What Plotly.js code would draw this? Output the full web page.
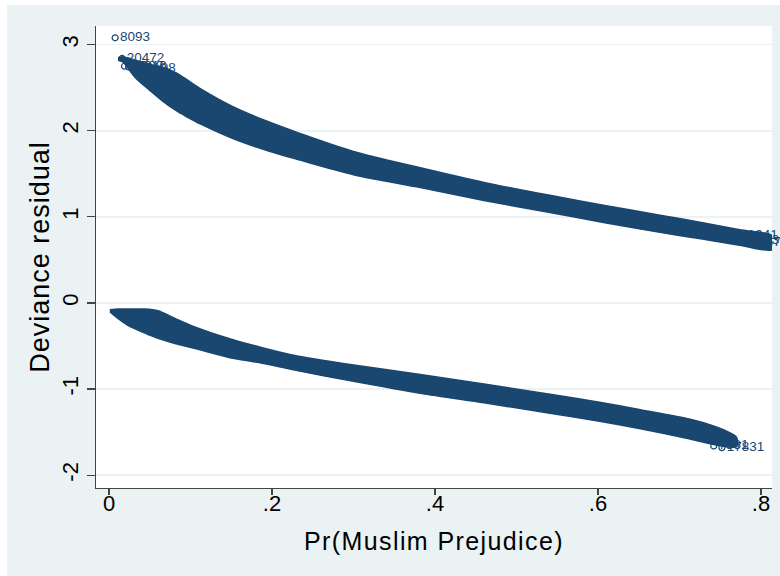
<!DOCTYPE html>
<html>
<head>
<meta charset="utf-8">
<script src="https://cdn.plot.ly/plotly-3.0.1.min.js"></script>
<style>
  html, body { margin: 0; padding: 0; background: #ffffff; width: 780px; height: 576px; overflow: hidden; }
  #chart { position: absolute; left: 7px; top: 5px; width: 773px; height: 571px; }
  .x2title { letter-spacing: 1.4px; }
  .ytitle { letter-spacing: 1px; }
</style>
</head>
<body>
<div id="chart"></div>
<script>
// Upper band (observations with outcome = 1): x = predicted probability, edges of point cloud
var upperX      = [0.011, 0.017, 0.032, 0.050, 0.065, 0.083, 0.096, 0.112, 0.152, 0.194, 0.234, 0.300, 0.382, 0.460, 0.541, 0.610, 0.676, 0.730, 0.774, 0.814];
var upperTop    = [2.85, 2.86, 2.82, 2.77, 2.74, 2.67, 2.59, 2.49, 2.28, 2.11, 1.97, 1.76, 1.57, 1.40, 1.25, 1.13, 1.02, 0.93, 0.85, 0.78];
var upperBottom = [2.82, 2.80, 2.62, 2.47, 2.35, 2.23, 2.16, 2.08, 1.91, 1.77, 1.66, 1.49, 1.34, 1.19, 1.05, 0.93, 0.82, 0.74, 0.67, 0.62];

// Lower band (observations with outcome = 0)
var lowerX      = [0.001, 0.011, 0.023, 0.044, 0.060, 0.081, 0.106, 0.146, 0.188, 0.228, 0.300, 0.382, 0.460, 0.541, 0.600, 0.652, 0.713, 0.745, 0.770];
var lowerTop    = [-0.08, -0.07, -0.07, -0.07, -0.09, -0.18, -0.28, -0.41, -0.52, -0.61, -0.72, -0.83, -0.94, -1.06, -1.15, -1.24, -1.35, -1.44, -1.56];
var lowerBottom = [-0.10, -0.18, -0.26, -0.35, -0.41, -0.47, -0.53, -0.63, -0.70, -0.78, -0.91, -1.05, -1.16, -1.28, -1.37, -1.46, -1.58, -1.65, -1.67];

// Labelled (extreme) observations
var labelX    = [0.0075, 0.016, 0.019, 0.024, 0.030, 0.778, 0.789, 0.800, 0.742, 0.752];
var labelY    = [3.08, 2.84, 2.75, 2.74, 2.72, 0.78, 0.72, 0.70, -1.66, -1.68];
var labelText = ["8093", "20472", "16216", "4782", "10198", "1941", "20311", "6707", "7831", "17831"];

// Axis ticks
var xTickVals = [0, 0.2, 0.4, 0.6, 0.8];
var xTickText = ["0", ".2", ".4", ".6", ".8"];
var yTickVals = [-2, -1, 0, 1, 2, 3];
var yTickText = ["-2", "-1", "0", "1", "2", "3"];

var navy = "#1a476f";

function band(xs, top, bottom) {
  var px = xs.concat(xs.slice().reverse());
  var py = top.concat(bottom.slice().reverse());
  return {
    x: px, y: py, type: "scatter", mode: "lines", fill: "toself",
    fillcolor: navy, line: { color: navy, width: 1.5, shape: "spline", smoothing: 0.8 },
    hoverinfo: "skip", showlegend: false
  };
}

var traces = [
  band(upperX, upperTop, upperBottom),
  band(lowerX, lowerTop, lowerBottom),
  {
    x: labelX, y: labelY, type: "scatter", mode: "markers+text", xaxis: "x2",
    text: labelText, textposition: "middle right", cliponaxis: false,
    textfont: { family: "Liberation Sans, Arial, sans-serif", size: 13.5, color: navy },
    marker: { symbol: "circle-open", size: 6, color: navy, line: { width: 1.2, color: navy } },
    showlegend: false
  }
];

var layout = {
  width: 773, height: 571,
  paper_bgcolor: "#eaf2f3",
  plot_bgcolor: "#ffffff",
  margin: { l: 89, r: 8, t: 21, b: 88 },
  font: { family: "Liberation Sans, Arial, Helvetica, sans-serif", color: "#000000" },
  showlegend: false,
  // axis line and tick marks
  xaxis: {
    range: [-0.016, 0.8135],
    tickvals: xTickVals, ticktext: xTickText,
    ticks: "outside", ticklen: 6, tickwidth: 1.2, tickcolor: "#444444",
    showticklabels: false,
    showline: true, linecolor: "#444444", linewidth: 1.3,
    showgrid: false, zeroline: false
  },
  // tick labels and title (same scale as xaxis)
  xaxis2: {
    matches: "x", overlaying: "x", anchor: "y", side: "bottom",
    tickvals: xTickVals, ticktext: xTickText,
    ticks: "", showline: false, showgrid: false, zeroline: false,
    tickfont: { size: 22 },
    title: { text: "Pr(Muslim Prejudice)", font: { size: 25 }, standoff: 17 }
  },
  yaxis: {
    range: [-2.149, 3.217],
    tickvals: yTickVals, ticktext: yTickText,
    tickangle: -90,
    ticks: "outside", ticklen: 8, tickwidth: 1.2, tickcolor: "#444444",
    showline: true, linecolor: "#444444", linewidth: 1.3,
    showgrid: true, gridcolor: "#eaf2f3", gridwidth: 1.5, zeroline: false,
    tickfont: { size: 22 },
    title: { text: "Deviance residual", font: { size: 27 }, standoff: 0 }
  }
};

Plotly.newPlot("chart", traces, layout, { displayModeBar: false, staticPlot: true });
</script>
</body>
</html>
